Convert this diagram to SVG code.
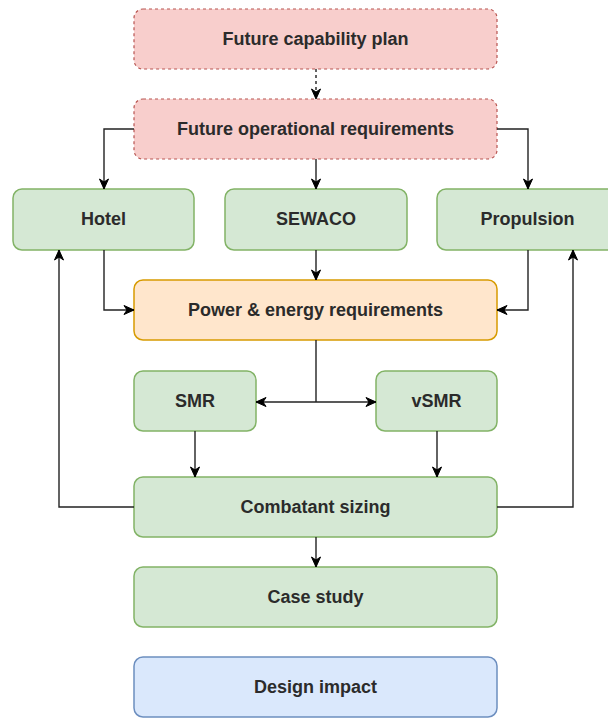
<svg xmlns="http://www.w3.org/2000/svg" width="608" height="718" viewBox="0 0 608 718">
<defs>
<marker id="arr" markerUnits="userSpaceOnUse" markerWidth="12" markerHeight="12" viewBox="0 0 12 12" refX="11" refY="6" orient="auto">
<path d="M1,1.5 L11,6 L1,10.5 L4,6 Z" fill="#000" stroke="#000" stroke-width="1"/>
</marker>
</defs>
<style>
.red{fill:#f8cecc;stroke:#b85450;stroke-width:1.2;stroke-dasharray:3 3}
.green{fill:#d5e8d4;stroke:#82b366;stroke-width:1.5}
.orange{fill:#ffe6cc;stroke:#d79b00;stroke-width:1.5}
.blue{fill:#dae8fc;stroke:#6c8ebf;stroke-width:1.5}
text{font-family:"Liberation Sans",Arial,sans-serif;font-size:18px;font-weight:bold;fill:#2b2b2b;text-anchor:middle}
.e{fill:none;stroke:#222;stroke-width:1.4;marker-end:url(#arr)}
.n{fill:none;stroke:#222;stroke-width:1.4}
</style>
<rect width="608" height="718" fill="#fff"/>
<g id="fcp"><rect class="red" x="134" y="9" width="363" height="60" rx="9"/><text x="315.5" y="45">Future capability plan</text></g>
<g id="for"><rect class="red" x="134" y="99" width="363" height="60" rx="9"/><text x="315.5" y="135">Future operational requirements</text></g>
<g id="hotel"><rect class="green" x="13" y="189" width="181" height="61" rx="9"/><text x="103.5" y="225">Hotel</text></g>
<g id="sewaco"><rect class="green" x="225" y="189" width="182" height="61" rx="9"/><text x="316" y="225">SEWACO</text></g>
<g id="propulsion"><rect class="green" x="437" y="189" width="182" height="61" rx="9"/><text x="527.5" y="225">Propulsion</text></g>
<g id="power"><rect class="orange" x="134" y="280" width="363" height="60" rx="9"/><text x="315.5" y="316">Power &amp; energy requirements</text></g>
<g id="smr"><rect class="green" x="134" y="371" width="122" height="60" rx="9"/><text x="195" y="407">SMR</text></g>
<g id="vsmr"><rect class="green" x="376" y="371" width="121" height="60" rx="9"/><text x="436.5" y="407">vSMR</text></g>
<g id="combatant"><rect class="green" x="134" y="477" width="363" height="60" rx="9"/><text x="315.5" y="513">Combatant sizing</text></g>
<g id="case"><rect class="green" x="134" y="567" width="363" height="60" rx="9"/><text x="315.5" y="603">Case study</text></g>
<g id="design"><rect class="blue" x="134" y="657" width="363" height="60" rx="9"/><text x="315.5" y="693">Design impact</text></g>
<g id="connectors">
<path class="e" d="M316,69 L316,99" stroke-dasharray="3 3"/>
<path class="e" d="M134,129 L104,129 L104,189"/>
<path class="e" d="M316,159 L316,189"/>
<path class="e" d="M497,129 L528,129 L528,189"/>
<path class="e" d="M104,250 L104,310 L134,310"/>
<path class="e" d="M316,250 L316,280"/>
<path class="e" d="M528,250 L528,310 L497,310"/>
<path class="n" d="M316,340 L316,402"/>
<path class="e" d="M316,402 L256,402"/>
<path class="e" d="M316,402 L376,402"/>
<path class="e" d="M195,431 L195,477"/>
<path class="e" d="M437,431 L437,477"/>
<path class="e" d="M134,507 L59,507 L59,250"/>
<path class="e" d="M497,507 L573,507 L573,250"/>
<path class="e" d="M316,537 L316,567"/>
</g>
</svg>
